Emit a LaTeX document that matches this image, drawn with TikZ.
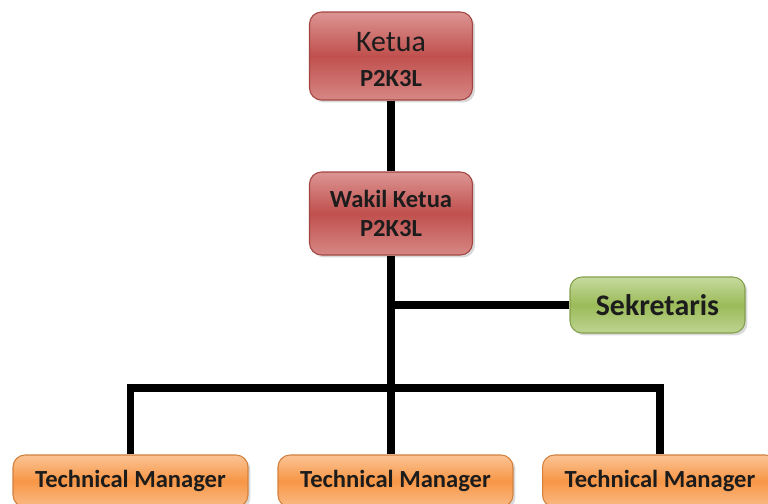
\documentclass[tikz,border=0pt]{standalone}
\usepackage{fontspec}
\setmainfont{Carlito}
\usetikzlibrary{positioning,shadows}

\definecolor{redbase}{HTML}{C0504D}
\definecolor{redlite}{HTML}{DC9593}
\definecolor{greenbase}{HTML}{9BBB59}
\definecolor{greenlite}{HTML}{C6DA9F}
\definecolor{orangebase}{HTML}{F79646}
\definecolor{orangelite}{HTML}{FBC495}
\definecolor{inktext}{HTML}{1C1C1C}

\tikzset{
  unitbox/.style={rectangle,rounded corners=0.24cm,inner sep=0pt,text=inktext,align=center,
    font=\bfseries\fontsize{14}{16}\selectfont,
    drop shadow={shadow xshift=0.05cm,shadow yshift=-0.05cm,opacity=0.3}},
  redbox/.style={unitbox,draw=redbase!85!black,line width=0.6pt,top color=redlite,bottom color=redlite!80!redbase,middle color=redbase},
  greenbox/.style={unitbox,draw=greenbase!85!black,line width=0.6pt,top color=greenlite,bottom color=greenlite!80!greenbase,middle color=greenbase},
  orangebox/.style={unitbox,draw=orangebase!85!black,line width=0.6pt,top color=orangelite,bottom color=orangelite!80!orangebase,middle color=orangebase},
  link/.style={line width=4.3pt,black}
}

\begin{document}
\begin{tikzpicture}[x=0.02cm,y=0.02cm]
  \useasboundingbox (0,0) rectangle (768,504);
  \clip (0,0) rectangle (768,504);
  % boxes
  \node[redbox,minimum width=3.26cm,minimum height=1.76cm](ketua)at(391,448)
    {\mbox{}\\[-1pt]{\mdseries\fontsize{17}{20}\selectfont Ketua}\\[4pt]P2K3L};
  \node[redbox,minimum width=3.26cm,minimum height=1.66cm](wakil)at(391,290.5)
    {Wakil Ketua\\[1pt]P2K3L};
  \node[greenbox,minimum width=3.5cm,minimum height=1.12cm,font=\bfseries\fontsize{17}{20}\selectfont](sek)at(657.5,199){Sekretaris};
  \node[orangebox,minimum width=4.7cm,minimum height=1.04cm](tm1)at(130.5,23){Technical Manager};
  \node[orangebox,minimum width=4.7cm,minimum height=1.04cm](tm2)at(395.5,23){Technical Manager};
  \node[orangebox,minimum width=4.7cm,minimum height=1.04cm](tm3)at(660,23){Technical Manager};
  \coordinate(hub)at(391,116);
  % lines
  \draw[link](ketua)--(wakil);
  \draw[link](wakil.south)--(wakil.south|-tm2.north);
  \draw[link](wakil.south|-sek.west)--(sek.west);
  \draw[link](tm1.north)--(tm1.north|-hub)--(tm3.north|-hub)--(tm3.north);
\end{tikzpicture}
\end{document}
